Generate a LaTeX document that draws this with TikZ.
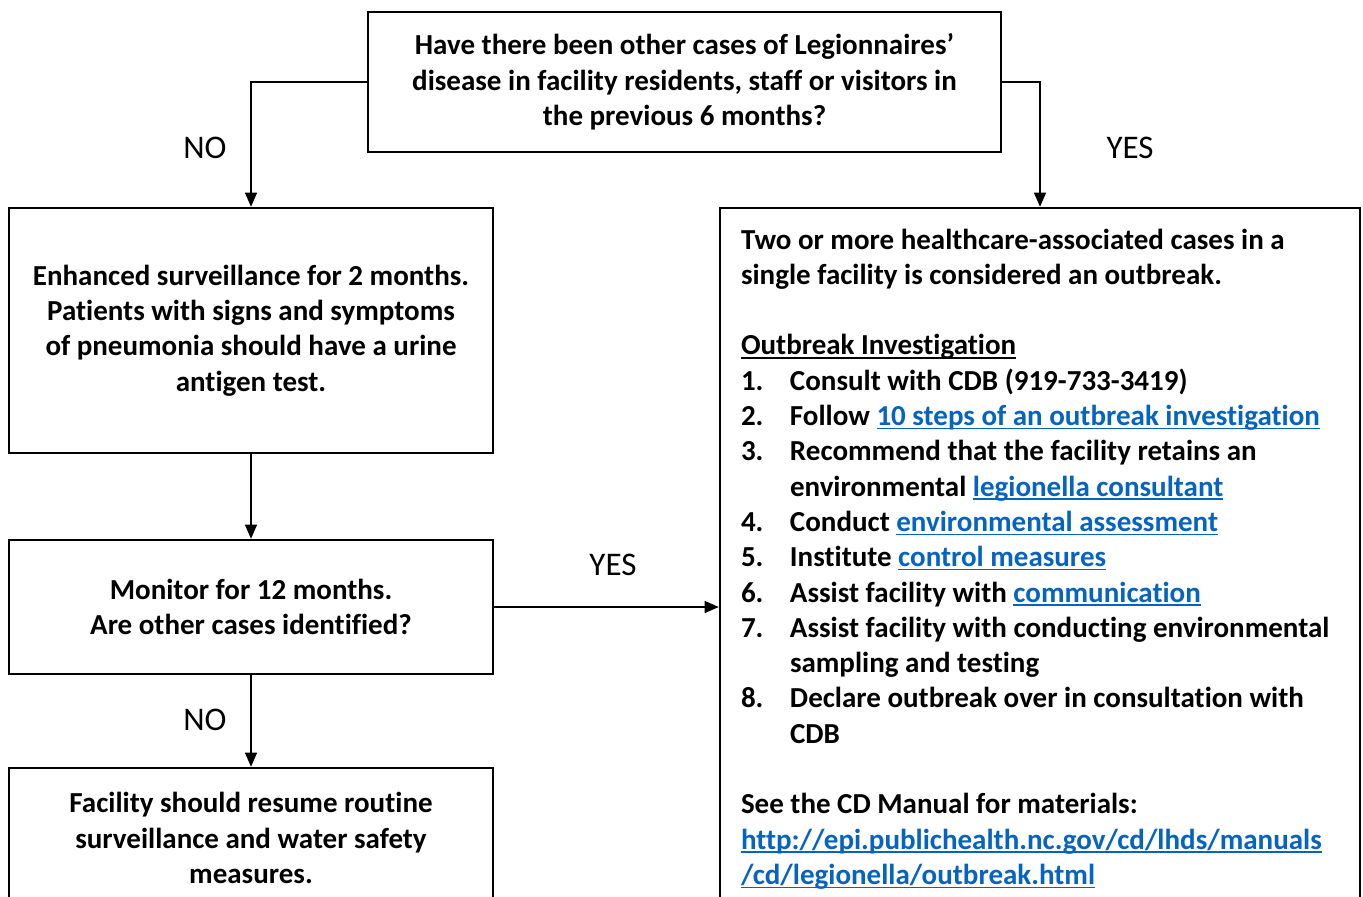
\documentclass[tikz,border=0pt]{standalone}
\usepackage{fontspec}
\setmainfont{Carlito}[Ligatures=CommonOff]
\usetikzlibrary{arrows.meta}
\definecolor{linkblue}{HTML}{0563C1}
\newcommand\ulbar[1]{\leavevmode\setbox0\hbox{#1}\rlap{\rule[-1.8pt]{\wd0}{0.7pt}}\box0}
\newcommand\weblink[1]{{\color{linkblue}\ulbar{#1}}}
\newcommand\itemno[1]{\makebox[24.5pt][l]{#1}}
\newcommand\itemgap{\hspace*{24.5pt}}

\begin{document}
\begin{tikzpicture}[x=0.5pt, y=-0.5pt,
  box/.style={draw, line width=1.3pt, inner sep=0pt,
    font=\fontsize{14.5pt}{17.65pt}\selectfont\bfseries},
  choice/.style={font=\fontsize{16.5pt}{20pt}\selectfont},
  arr/.style={-{Triangle[length=7pt,width=6pt]}, line width=0.55pt}]
\clip (0,0) rectangle (1363,896);
\node[box, minimum width=316.5pt, minimum height=70pt, align=center] (question) at (684.5,82)
  {Have there been other cases of Legionnaires’\\ disease in facility residents, staff or visitors in\\ the previous 6 months?};
\node[box, minimum width=242pt, minimum height=122.5pt, align=center] (enhanced) at (251,330.5)
  {Enhanced surveillance for 2 months.\\ Patients with signs and symptoms\\ of pneumonia should have a urine\\ antigen test.};
\node[box, minimum width=242pt, minimum height=67pt, align=center] (monitor) at (251,607)
  {Monitor for 12 months.\\ Are other cases identified?};
\node[box, minimum width=242pt, minimum height=70pt, align=center] (resume) at (251,838)
  {Facility should resume routine\\ surveillance and water safety\\ measures.};
\node[box, minimum width=320pt, minimum height=351pt, text width=299pt, inner xsep=10.5pt, align=flush left] (outbreak) at (1040,559)
  {Two or more healthcare-associated cases in a\\
   single facility is considered an outbreak.\\[17.65pt]
   \ulbar{Outbreak Investigation}\\
   \itemno{1.}Consult with CDB (919-733-3419)\\
   \itemno{2.}Follow \weblink{10 steps of an outbreak investigation}\\
   \itemno{3.}Recommend that the facility retains an\\
   \itemgap environmental \weblink{legionella consultant}\\
   \itemno{4.}Conduct \weblink{environmental assessment}\\
   \itemno{5.}Institute \weblink{control measures}\\
   \itemno{6.}Assist facility with \weblink{communication}\\
   \itemno{7.}Assist facility with conducting environmental\\
   \itemgap sampling and testing\\
   \itemno{8.}Declare outbreak over in consultation with\\
   \itemgap CDB\\[17.65pt]
   See the CD Manual for materials:\\
   \weblink{http://epi.publichealth.nc.gov/cd/lhds/manuals}\\
   \weblink{/cd/legionella/outbreak.html}};
\draw[arr] (question.west) -| (enhanced.north);
\draw[arr] (question.east) -| (outbreak.north);
\draw[arr] (enhanced) -- (monitor);
\draw[arr] (monitor.east) -- (monitor.east -| outbreak.west);
\draw[arr] (monitor) -- (resume);
\node[choice] (noleft) at (205,148) {NO};
\node[choice] (yesright) at (1130,148) {YES};
\node[choice] (yesmid) at (613,565) {YES};
\node[choice] (nolow) at (205,720) {NO};
\end{tikzpicture}
\end{document}
